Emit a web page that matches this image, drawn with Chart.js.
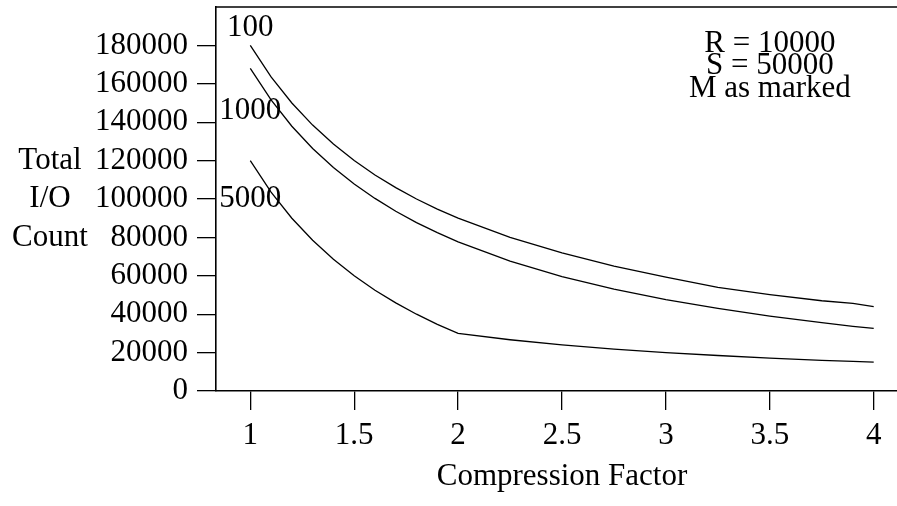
<!DOCTYPE html>
<html>
<head>
<meta charset="utf-8">
<script src="https://cdn.jsdelivr.net/npm/chart.js@4.4.1/dist/chart.umd.min.js"></script>
<style>
  html, body { margin: 0; padding: 0; background: #fff; overflow: hidden; }
  canvas { display: block; }
</style>
</head>
<body>
<canvas id="ioChart" width="920" height="506"></canvas>
<script>
const compression = [1, 1.1, 1.2, 1.3, 1.4, 1.5, 1.6, 1.7, 1.8, 1.9, 2, 2.25, 2.5, 2.75, 3, 3.25, 3.5, 3.75, 3.9, 4];
const ioM100 = [180000, 163600, 150000, 138500, 128600, 120000, 112500, 105900, 100000, 94700, 90000, 80000, 72000, 65000, 59300, 54000, 50200, 47000, 45600, 44000];
const ioM1000 = [168000, 151600, 137900, 126300, 116400, 107800, 100300, 93600, 87700, 82500, 77700, 67700, 59600, 53100, 47600, 43000, 39000, 35600, 33700, 32600];
const ioM5000 = [120000, 103600, 90000, 78500, 68600, 60000, 52500, 45900, 40000, 34700, 30000, 26700, 24000, 21800, 20000, 18500, 17100, 16000, 15400, 15000];

const xTicks = [1, 1.5, 2, 2.5, 3, 3.5, 4];
const yTicks = [0, 20000, 40000, 60000, 80000, 100000, 120000, 140000, 160000, 180000];

const seriesLabels = ['100', '1000', '5000'];
const seriesLabelAt = [[1, 189000], [1, 146000], [1, 100000]];
const infoLines = ['R = 10000', 'S = 50000', 'M as marked'];
const yTitleLines = [['Total', 120000], ['I/O', 100000], ['Count', 80000]];

const FONT = '"Liberation Serif", "Times New Roman", serif';

function pts(values) {
    return values.map((v, i) => ({ x: compression[i], y: v }));
}

const annotations = {
    id: 'annotations',
    afterDraw(chart) {
        const ctx = chart.ctx;
        const xs = chart.scales.x;
        const ys = chart.scales.y;
        const area = chart.chartArea;
        ctx.save();
        // top edge of the frame
        ctx.strokeStyle = '#000';
        ctx.lineWidth = 1.6;
        ctx.beginPath();
        ctx.moveTo(area.left, area.top);
        ctx.lineTo(area.right, area.top);
        ctx.stroke();

        ctx.fillStyle = '#000';
        ctx.font = '31px ' + FONT;
        ctx.textAlign = 'center';
        ctx.textBaseline = 'middle';
        seriesLabels.forEach((txt, i) => {
            ctx.fillText(txt, xs.getPixelForValue(seriesLabelAt[i][0]), ys.getPixelForValue(seriesLabelAt[i][1]));
        });

        const infoX = xs.getPixelForValue(3.5);
        const infoY = ys.getPixelForValue(181000);
        infoLines.forEach((txt, i) => {
            ctx.fillText(txt, infoX, infoY + i * 22.5);
        });

        yTitleLines.forEach(([txt, v]) => {
            ctx.fillText(txt, 50, ys.getPixelForValue(v));
        });
        ctx.restore();
    }
};

const lineStyle = {
    borderColor: '#000',
    borderWidth: 1.3,
    pointRadius: 0,
    tension: 0,
    fill: false
};

new Chart(document.getElementById('ioChart'), {
    type: 'line',
    data: {
        datasets: [
            { label: seriesLabels[0], data: pts(ioM100), ...lineStyle },
            { label: seriesLabels[1], data: pts(ioM1000), ...lineStyle },
            { label: seriesLabels[2], data: pts(ioM5000), ...lineStyle }
        ]
    },
    options: {
        responsive: false,
        animation: false,
        devicePixelRatio: 1,
        layout: { padding: { left: 0, top: 7, right: 12, bottom: 0 } },
        plugins: {
            legend: { display: false },
            tooltip: { enabled: false }
        },
        scales: {
            x: {
                type: 'linear',
                min: 0.835,
                max: 4.165,
                afterFit: (scale) => {
                    scale.height = 115;
                    scale.paddingLeft = 0;
                    scale.paddingRight = 0;
                },
                afterBuildTicks: (scale) => { scale.ticks = xTicks.map(v => ({ value: v })); },
                grid: { drawOnChartArea: false, drawTicks: true, tickLength: 19, color: '#000', lineWidth: 1.3 },
                border: { display: true, color: '#000', width: 1.6 },
                ticks: {
                    color: '#000',
                    padding: 7,
                    maxRotation: 0,
                    font: { family: FONT, size: 31 },
                    callback: (v) => String(v)
                },
                title: {
                    display: true,
                    text: 'Compression Factor',
                    color: '#000',
                    font: { family: FONT, size: 31 },
                    padding: { top: 0, bottom: 11 }
                }
            },
            y: {
                type: 'linear',
                min: 0,
                max: 200000,
                afterFit: (scale) => {
                    scale.width = 216;
                    scale.paddingTop = 0;
                    scale.paddingBottom = 0;
                },
                afterBuildTicks: (scale) => { scale.ticks = yTicks.map(v => ({ value: v })); },
                grid: { drawOnChartArea: false, drawTicks: true, tickLength: 19, color: '#000', lineWidth: 1.3 },
                border: { display: true, color: '#000', width: 1.6 },
                ticks: {
                    color: '#000',
                    padding: 9,
                    font: { family: FONT, size: 31 },
                    callback: (v) => String(v)
                }
            }
        }
    },
    plugins: [annotations]
});
</script>
</body>
</html>
